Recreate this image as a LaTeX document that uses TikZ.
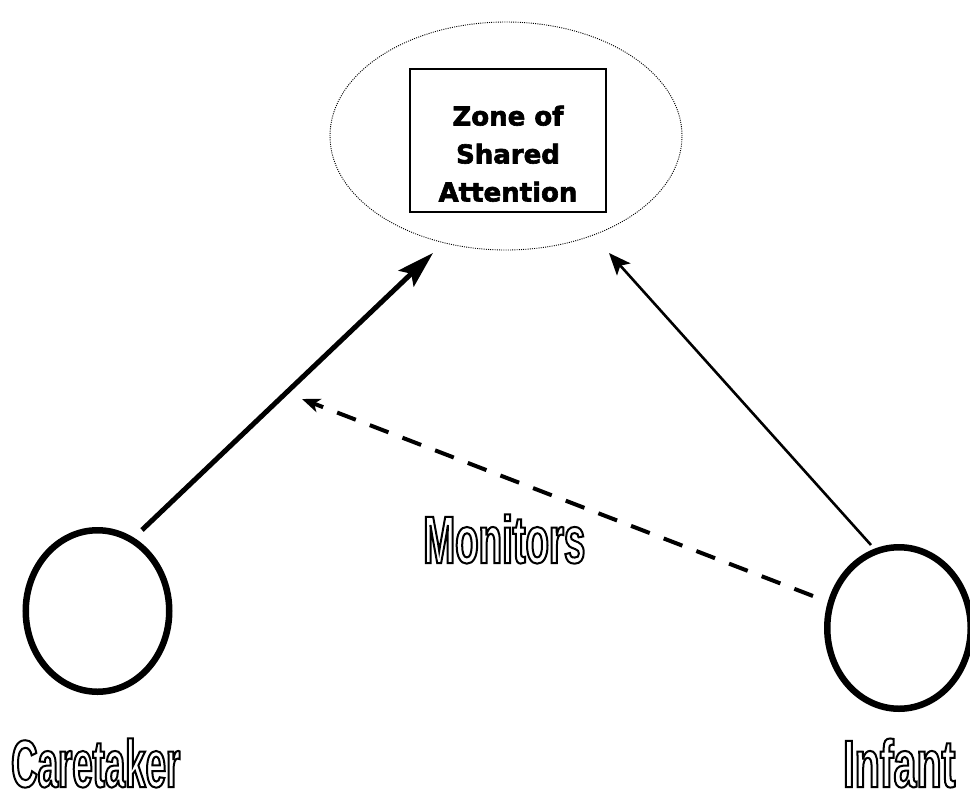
\documentclass[tikz,border=0pt]{standalone}
\usepackage{fontspec}
\usetikzlibrary{shapes.geometric,arrows.meta}

\newfontfamily\labelfont{Liberation Sans}
\newfontfamily\zonefont{DejaVu Sans}[FakeBold=2.4]

% hollow, condensed lettering for the role labels (stroked glyph outlines)
\newcommand{\hollowlabel}[2]{{\labelfont\bfseries\addfontfeatures{FakeStretch=#1}\fontsize{67}{67}\selectfont
  \special{pdf:literal direct 1 Tr 2 w}#2\special{pdf:literal direct 0 Tr 1 w}}}

\begin{document}
\begin{tikzpicture}[x=1pt,y=-1pt,
  person/.style={ellipse, draw, line width=6.5pt, minimum width=143.5pt, minimum height=161.5pt, inner sep=0pt},
  zonering/.style={ellipse, draw, line width=0.9pt, dash pattern=on 1pt off 1.2pt, minimum width=352pt, minimum height=228pt, inner sep=0pt},
  zonebox/.style={rectangle, draw, line width=1.8pt, minimum width=196pt, minimum height=143pt, inner sep=0pt},
  zonetext/.style={align=center, inner sep=0pt, font=\zonefont\bfseries\fontsize{26}{38}\selectfont},
  rolelabel/.style={inner sep=0pt, anchor=base west},
  leadgaze/.style={line width=5pt, -{Stealth[length=37pt,width=22pt,inset=7pt]}},
  followgaze/.style={line width=2.6pt, -{Stealth[length=22pt,width=18pt,inset=5pt]}},
  monitor/.style={line width=4pt, dash pattern=on 20pt off 15pt, -{Stealth[length=18pt,width=14pt,inset=5pt]}}
]
\useasboundingbox (0,0) rectangle (970,801);

% shared-attention zone
\node[zonering] (zone) at (506,136) {};
\node[zonebox] (box) at (508,140.5) {};
\node[zonetext, anchor=north] (boxtext) at (508,105.5) {Zone of\\Shared\\Attention};

% the two participants
\node[person] (care) at (97.5,611) {};
\node[person] (inf) at (899,628) {};

\node[rolelabel] (carelabel) at (11,787) {\hollowlabel{0.547}{Caretaker}};
\node[rolelabel] (inflabel) at (843,787) {\hollowlabel{0.615}{Infant}};
\node[rolelabel] (monlabel) at (423,563) {\hollowlabel{0.573}{Monitors}};

% connector end points
\coordinate (careOut) at (142,530);
\coordinate (careTip) at (433,253);
\coordinate (infOut) at (871,545);
\coordinate (infTip) at (609,253);
\coordinate (monOut) at (813,596);
\coordinate (monTip) at (302,399);

\draw[leadgaze] (careOut) -- (careTip);
\draw[followgaze] (infOut) -- (infTip);
\draw[monitor] (monOut) -- (monTip);
\end{tikzpicture}
\end{document}
